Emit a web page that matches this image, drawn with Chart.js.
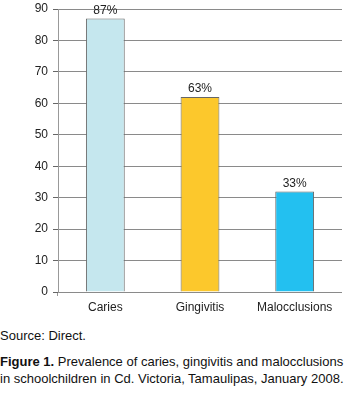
<!DOCTYPE html>
<html>
<head>
<meta charset="utf-8">
<script src="https://cdn.jsdelivr.net/npm/chart.js@4"></script>
<style>
    html, body { margin: 0; padding: 0; background: #fff; }
    body { width: 361px; height: 397px; position: relative; overflow: hidden; font-family: "Liberation Sans", Arial, sans-serif; color: #111; }
    #wrap { position: absolute; left: 0; top: 0; width: 361px; height: 318px; }
    .source { position: absolute; left: 0; top: 328px; font-size: 13px; }
    .caption { position: absolute; left: 0; top: 353px; font-size: 13px; line-height: 17px; white-space: nowrap; }
</style>
</head>
<body>
<div id="wrap"><canvas id="chart"></canvas></div>
<div class="source">Source: Direct.</div>
<div class="caption"><b>Figure 1.</b> Prevalence of caries, gingivitis and malocclusions<br>in schoolchildren in Cd. Victoria, Tamaulipas, January 2008.</div>
<script>
const categories = ['Caries', 'Gingivitis', 'Malocclusions'];
const prevalence = [87, 62, 32];
const percentLabels = ['87%', '63%', '33%'];
const barColors = ['#c5e7ee', '#fcc82c', '#23c0f0'];
const yTicks = [0, 10, 20, 30, 40, 50, 60, 70, 80, 90];

const FONT = '"Liberation Sans", Arial, sans-serif';

// percent text above each bar
const barLabels = {
    id: 'barLabels',
    afterDatasetsDraw(chart) {
        const { ctx } = chart;
        const meta = chart.getDatasetMeta(0);
        ctx.save();
        ctx.font = `12px ${FONT}`;
        ctx.fillStyle = '#222';
        ctx.textAlign = 'center';
        ctx.textBaseline = 'bottom';
        meta.data.forEach((bar, i) => {
            ctx.fillText(percentLabels[i], bar.x, bar.y - 2);
        });
        ctx.restore();
    },
};

new Chart(document.getElementById('chart'), {
    type: 'bar',
    data: {
        labels: categories,
        datasets: [{
            data: prevalence,
            backgroundColor: barColors,
            borderColor: '#666',
            borderWidth: 1,
            barPercentage: 0.41,
            categoryPercentage: 1,
        }],
    },
    options: {
        responsive: true,
        maintainAspectRatio: false,
        animation: false,
        layout: { padding: { top: 9, right: 19, left: 0, bottom: 0 } },
        plugins: { legend: { display: false }, tooltip: { enabled: false } },
        scales: {
            x: {
                grid: {
                    drawOnChartArea: false,
                    tickLength: 4,
                    color: (c) => (c.index === 0 ? '#999' : 'rgba(0,0,0,0)'),
                },
                border: { display: false },
                ticks: { color: '#222', font: { family: FONT, size: 12 }, padding: 4 },
                afterFit(scale) { scale.height = 26; },
            },
            y: {
                min: 0,
                max: 90,
                afterBuildTicks(scale) { scale.ticks = yTicks.map((v) => ({ value: v })); },
                grid: { color: '#8a8a8a', tickLength: 5, tickColor: '#666' },
                border: { color: '#999' },
                ticks: { color: '#222', font: { family: FONT, size: 12 }, padding: 5 },
                afterFit(scale) {
                    scale.width = 58;
                    scale.paddingTop = 0;
                    scale.paddingBottom = 0;
                },
            },
        },
    },
    plugins: [barLabels],
});
</script>
</body>
</html>
